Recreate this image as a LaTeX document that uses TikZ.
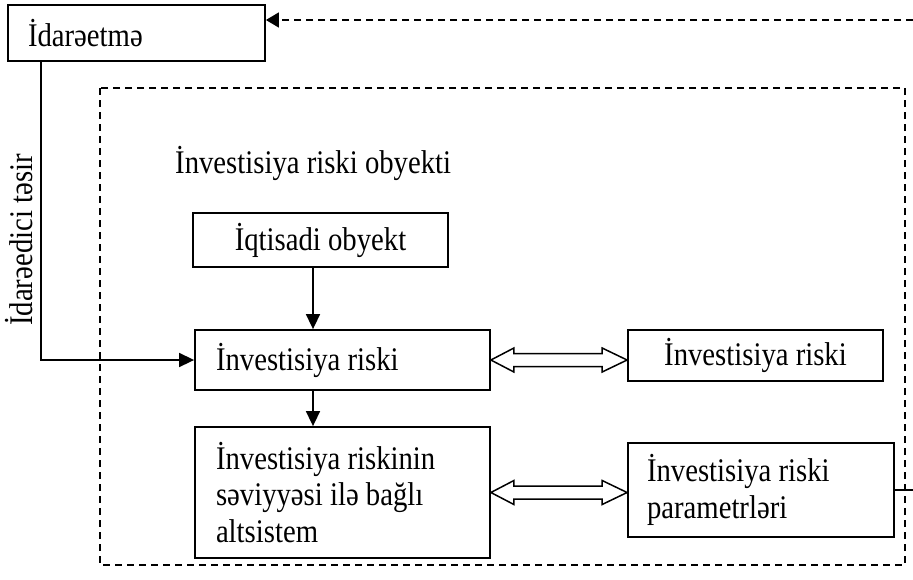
\documentclass[tikz,border=0pt]{standalone}
\usepackage{fontspec}
\setmainfont{Liberation Serif}[FakeStretch=0.87]
\usetikzlibrary{arrows.meta,calc}

% hollow two-headed block arrow between two anchors (horizontal)
\newcommand{\twowayarrow}[2]{%
  \draw[hollow] let \p1=(#1), \p2=(#2) in
    (\x1,\y1) -- (\x1+23pt,\y1+12pt) -- (\x1+23pt,\y1+6.5pt)
    -- (\x2-25pt,\y1+6.5pt) -- (\x2-25pt,\y1+12pt) -- (\x2,\y1)
    -- (\x2-25pt,\y1-12pt) -- (\x2-25pt,\y1-6.5pt)
    -- (\x1+23pt,\y1-6.5pt) -- (\x1+23pt,\y1-12pt) -- cycle;}

\begin{document}
\begin{tikzpicture}[x=1pt,y=-1pt,
  every node/.style={font=\fontsize{33}{36.5}\selectfont},
  box/.style={draw,line width=1.8pt,inner sep=0pt},
  plain/.style={inner sep=0pt},
  link/.style={line width=1.6pt},
  arr/.style={link,-{Triangle[length=15pt,width=14pt]}},
  dashline/.style={line width=1.5pt,dash pattern=on 7pt off 5pt},
  hollow/.style={line width=1.5pt,line join=miter,fill=white}]

\useasboundingbox (0,0) rectangle (913,579);

% outer boundary of the risk object
\draw[dashline] (100,88) rectangle (905,565);

% blocks
\node[box, minimum width=257pt, minimum height=56pt, text width=217pt, align=flush left]
  (idare) at (136.5,33) {İdarəetmə};
\node[box, minimum width=255pt, minimum height=54pt]
  (iqt) at (320.5,240) {İqtisadi obyekt};
\node[box, minimum width=295pt, minimum height=60pt, text width=253pt, align=flush left]
  (inv) at (342.5,360) {İnvestisiya riski};
\node[box, minimum width=295pt, minimum height=131pt, text width=253pt, align=flush left]
  (lvl) at (342.5,492.5) {İnvestisiya riskinin\\ səviyyəsi ilə bağlı\\ altsistem};
\node[box, minimum width=255pt, minimum height=51pt]
  (invr) at (755.5,355.5) {İnvestisiya riski};
\node[box, minimum width=266pt, minimum height=94pt, text width=228pt, align=flush left]
  (par) at (761,490) {İnvestisiya riski\\ parametrləri};

% labels
\node[plain, anchor=base west] (objtitle) at (175,173) {İnvestisiya riski obyekti};
\node[plain, rotate=90, anchor=south] (effect) at (33,240) {İdarəedici təsir};

% helper coordinates
\coordinate (cx) at (313,0);
\coordinate (edge) at (913,0);
\coordinate (fbin) at (913,20);

% control action
\draw[arr] ($(idare.south west)+(34,0)$) |- (inv.west);
% vertical flow
\draw[arr] (iqt.south -| cx) -- (inv.north -| cx);
\draw[arr] (inv.south -| cx) -- (lvl.north -| cx);
% two-way links
\twowayarrow{inv.east}{invr.west}
\twowayarrow{lvl.east}{par.west}
% feedback
\draw[link] (par.east) -- (par.east -| edge);
\draw[dashline,-{Triangle[length=13pt,width=15pt]}] (fbin) -- (fbin -| idare.east);

\end{tikzpicture}
\end{document}
